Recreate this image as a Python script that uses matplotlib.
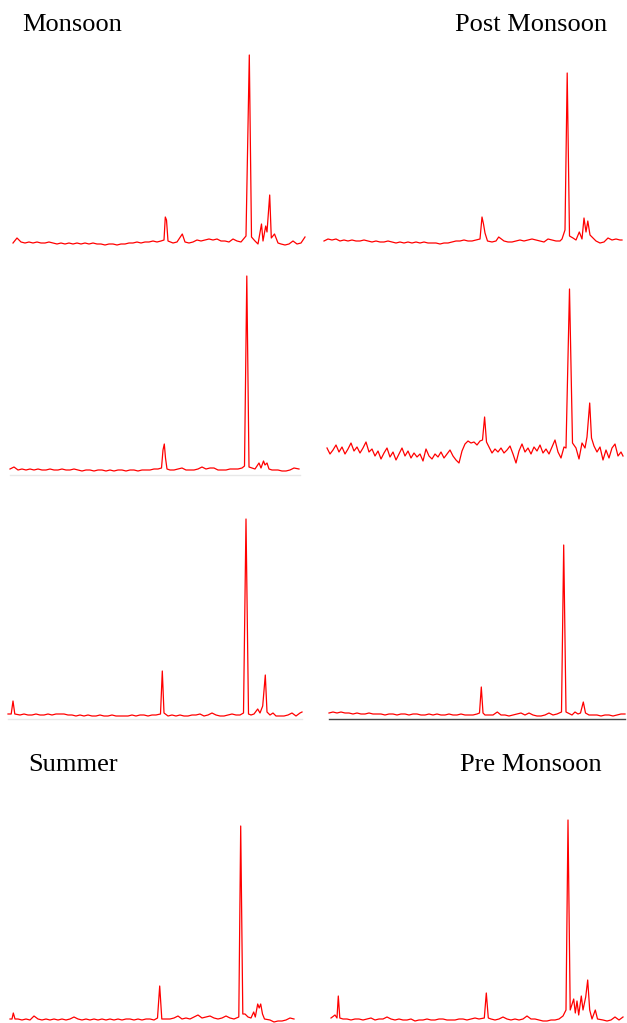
import numpy as np
import matplotlib.pyplot as plt

# figure size in pixels (dpi 100)
W, H = 627, 1023

# ---------------------------------------------------------------
# spectra
#   *_base  : intensity on a regular channel grid (step given below)
#   *_peaks : (channel, intensity) points of the peaks / features
# ---------------------------------------------------------------
p1_base = [7, 12, 8, 7, 8, 7, 8, 7, 7, 8,
           7, 6, 7, 6, 7, 6, 7, 6, 7, 6,
           7, 6, 6, 5, 6, 6, 5, 6, 6, 7,
           7, 8, 7, 8, 8, 9, 8, 9, 9, 8,
           7, 8, 8, 8, 7, 8, 10, 9, 10, 11,
           10, 11, 9, 9, 8, 11, 9, 8, 9, 9,
           9, 8, 8, 8, 8, 8, 7, 6, 5, 6,
           9, 6, 7, 13]
p1_peaks = [(151, 10), (152.3, 33), (153.5, 30), (155, 9), (169.3, 16),
            (233, 14), (236.3, 195), (238.5, 13), (242, 9), (245, 6),
            (248.5, 26), (250, 9), (252.7, 24), (254, 18), (256.7, 55),
            (258.3, 12), (261.5, 16), (265, 7)]

p2_base = [9, 11, 10, 11, 9, 10, 9, 10, 9, 9,
           10, 9, 8, 9, 8, 8, 9, 8, 7, 8,
           7, 8, 7, 8, 7, 8, 7, 7, 7, 6,
           7, 7, 8, 9, 9, 10, 9, 9, 10, 10,
           10, 9, 8, 9, 9, 9, 8, 8, 9, 10,
           9, 10, 11, 10, 9, 8, 11, 10, 9, 9,
           10, 10, 10, 10, 10, 10, 10, 10, 9, 7,
           8, 12, 10, 11, 10]
p2_peaks = [(156, 11), (158, 33), (159.5, 26), (161, 17), (163.5, 9),
            (174.7, 13), (238, 11), (241, 20), (243.2, 177), (245.5, 14),
            (249, 12), (252, 10), (255.3, 18), (258, 11), (260, 32),
            (262, 18), (263.8, 29), (266, 15), (269, 12), (298, 10)]

p3_base = [9, 11, 8, 9, 8, 9, 8, 9, 8, 8,
           9, 8, 8, 9, 8, 8, 9, 8, 7, 8,
           8, 7, 8, 8, 7, 8, 7, 8, 8, 7,
           8, 8, 7, 8, 8, 8, 9, 9, 9, 9,
           8, 8, 9, 10, 8, 8, 8, 9, 11, 9,
           10, 10, 8, 8, 8, 9, 9, 9, 10, 10,
           10, 9, 9, 9, 9, 9, 8, 8, 7, 7,
           8, 10, 9]
p3_peaks = [(151.5, 10), (153, 28), (154.3, 34), (155.5, 20), (157, 9),
            (234.5, 12), (236.8, 202), (239, 11), (242, 10), (245, 9),
            (249, 15), (251, 10), (253.5, 17), (255, 13), (257, 15),
            (259, 9), (262, 8), (289, 9)]

p4_base = [30, 24, 28, 33, 26, 31, 24, 29, 35, 27,
           31, 25, 30, 36, 26, 29, 22, 27, 19, 25,
           30, 21, 26, 18, 24, 30, 22, 27, 20, 25,
           21, 24, 17, 29, 22, 19, 24, 21, 26, 20,
           24, 28, 22, 18, 15, 27, 34, 37, 35, 36,
           33, 37, 37, 37, 31, 25, 29, 26, 30, 25,
           28, 32, 24, 15, 27, 34, 26, 30, 24, 31,
           27, 33, 25, 29, 24, 31, 38, 26, 20, 31,
           30, 30, 30, 30, 19, 35, 30, 30, 30, 32,
           26, 31, 18, 28, 20, 30, 34, 22, 26]
p4_peaks = [(155.5, 38), (157.6, 61), (159.5, 36),
            (239, 30), (242.5, 189), (245.5, 35),
            (260, 41), (262.7, 75), (264.5, 40), (296, 22)]

p5_base = [8, 8, 7, 7, 8, 7, 7, 8, 7, 7,
           8, 7, 8, 8, 8, 7, 7, 6, 7, 6,
           7, 6, 6, 7, 6, 6, 7, 6, 6, 6,
           6, 7, 6, 7, 7, 6, 7, 7, 7, 7,
           6, 7, 6, 7, 6, 6, 7, 7, 8, 6,
           7, 9, 7, 6, 6, 7, 8, 7, 7, 8,
           8, 7, 7, 7, 7, 7, 7, 6, 6, 6,
           7, 9, 6, 9]
p5_peaks = [(3.2, 8), (5, 21), (6.8, 8), (152.5, 8), (154.3, 51), (156, 9),
            (235.5, 9), (238, 203), (240.5, 8), (243, 7), (246, 8),
            (249.7, 13), (252, 9), (254.7, 16), (257.3, 47), (259, 10),
            (262, 7), (265, 9), (294, 10)]

p6_base = [9, 10, 9, 10, 9, 9, 8, 9, 8, 8,
           9, 8, 8, 8, 7, 8, 8, 7, 8, 8,
           7, 8, 8, 7, 7, 8, 7, 8, 7, 7,
           8, 7, 7, 8, 7, 7, 7, 8, 8, 7,
           7, 7, 8, 7, 7, 6, 7, 8, 9, 7,
           9, 7, 6, 6, 7, 9, 7, 8, 8, 8,
           8, 8, 8, 8, 8, 7, 7, 7, 6, 7,
           7, 6, 7, 8, 8]
p6_peaks = [(150.5, 9), (152.3, 35), (154, 9), (168.3, 10),
            (232.5, 10), (234.7, 177), (237, 10), (239, 9), (243, 7),
            (246, 10), (249, 8), (251.5, 9), (254.3, 20), (256.5, 9)]

p7_base = [4, 4, 4, 3, 4, 3, 7, 4, 3, 4,
           3, 4, 3, 4, 3, 4, 6, 4, 3, 4,
           3, 4, 3, 4, 3, 4, 3, 4, 3, 4,
           4, 3, 4, 3, 4, 4, 3, 4, 4, 4,
           4, 5, 7, 4, 5, 4, 6, 8, 5, 6,
           7, 5, 4, 5, 7, 5, 4, 6, 6, 6,
           6, 6, 6, 6, 3, 3, 1, 2, 2, 3,
           5, 4]
p7_peaks = [(2, 4), (3.3, 10), (5, 4), (147.5, 5), (149.7, 37), (151.8, 4),
            (228.8, 6), (230.7, 197), (232.8, 9), (235, 9), (238, 6),
            (241, 5), (243.7, 11), (245.3, 6), (247.7, 19), (249.2, 15),
            (250.7, 19), (252.5, 9), (254.5, 4)]

p8_base = [5, 8, 5, 4, 4, 3, 4, 4, 3, 4,
           5, 3, 4, 4, 6, 4, 3, 4, 3, 3,
           4, 2, 3, 3, 4, 3, 3, 4, 4, 3,
           3, 3, 4, 4, 3, 4, 5, 4, 4, 4,
           4, 3, 4, 6, 4, 3, 4, 3, 4, 7,
           4, 4, 3, 2, 2, 3, 3, 4, 7, 7,
           7, 7, 7, 7, 7, 7, 7, 4, 3, 2,
           3, 6, 3, 6]
p8_peaks = [(6, 5), (7.3, 27), (8.8, 5), (153.3, 5), (155.3, 30), (157.3, 5),
            (235, 13), (237, 203), (239.2, 13), (242.7, 24), (244.3, 10),
            (246, 22), (247.7, 8), (250.3, 27), (252, 13), (254.7, 26),
            (256.7, 43), (258.7, 13), (261, 4), (264.3, 13), (266.5, 4)]

titles = ["Monsoon", "Post Monsoon", "Summer", "Pre Monsoon"]

# panel layout: (base, grid step, peaks, left px, bottom px, rule colour, rule end)
panels = [
    (p1_base, 4, p1_peaks, 13, 250, None, 0),
    (p2_base, 4, p2_peaks, 324, 250, None, 0),
    (p3_base, 4, p3_peaks, 10, 478, "#e8e8e8", 290),
    (p4_base, 3, p4_peaks, 327, 478, None, 0),
    (p5_base, 4, p5_peaks, 8, 722, "#e8e8e8", 294),
    (p6_base, 4, p6_peaks, 329, 722, "#444444", 296),
    (p7_base, 4, p7_peaks, 10, 1023, None, 0),
    (p8_base, 4, p8_peaks, 331, 1023, None, 0),
]
PW, PH = 300, 230


def merge(base, step, peaks):
    xb = np.arange(len(base)) * step
    yb = np.asarray(base, float)
    px = np.array([p[0] for p in peaks], float)
    py = np.array([p[1] for p in peaks], float)
    keep = np.array([np.min(np.abs(px - x)) >= 2 for x in xb])
    x = np.concatenate([xb[keep], px])
    y = np.concatenate([yb[keep], py])
    order = np.argsort(x, kind="stable")
    return x[order], y[order]


fig = plt.figure(figsize=(W / 100, H / 100), dpi=100)

for base, step, peaks, left, bottom, rule, rule_end in panels:
    ax = fig.add_axes([left / W, (H - bottom) / H, PW / W, PH / H])
    x, y = merge(base, step, peaks)
    ax.plot(x, y, color="#ff0000", lw=0.9, clip_on=False)
    ax.set_xlim(0, PW)
    ax.set_ylim(0, PH)
    ax.set_xticks([])
    ax.set_yticks([])
    ax.patch.set_alpha(0)
    for s in ("top", "left", "right"):
        ax.spines[s].set_visible(False)
    if rule:
        sp = ax.spines["bottom"]
        sp.set_position(("data", 3))
        sp.set_bounds(0, rule_end)
        sp.set_color(rule)
        sp.set_linewidth(1.0)
    else:
        ax.spines["bottom"].set_visible(False)

font = dict(family="Liberation Serif", size=19, ha="left", va="baseline")
fig.text(22 / W, 1 - 31 / H, titles[0], **font)
fig.text(455 / W, 1 - 31 / H, titles[1], **font)
fig.text(28 / W, 1 - 771 / H, titles[2], **font)
fig.text(460 / W, 1 - 771 / H, titles[3], **font)

fig.savefig("out.png", dpi=100)
